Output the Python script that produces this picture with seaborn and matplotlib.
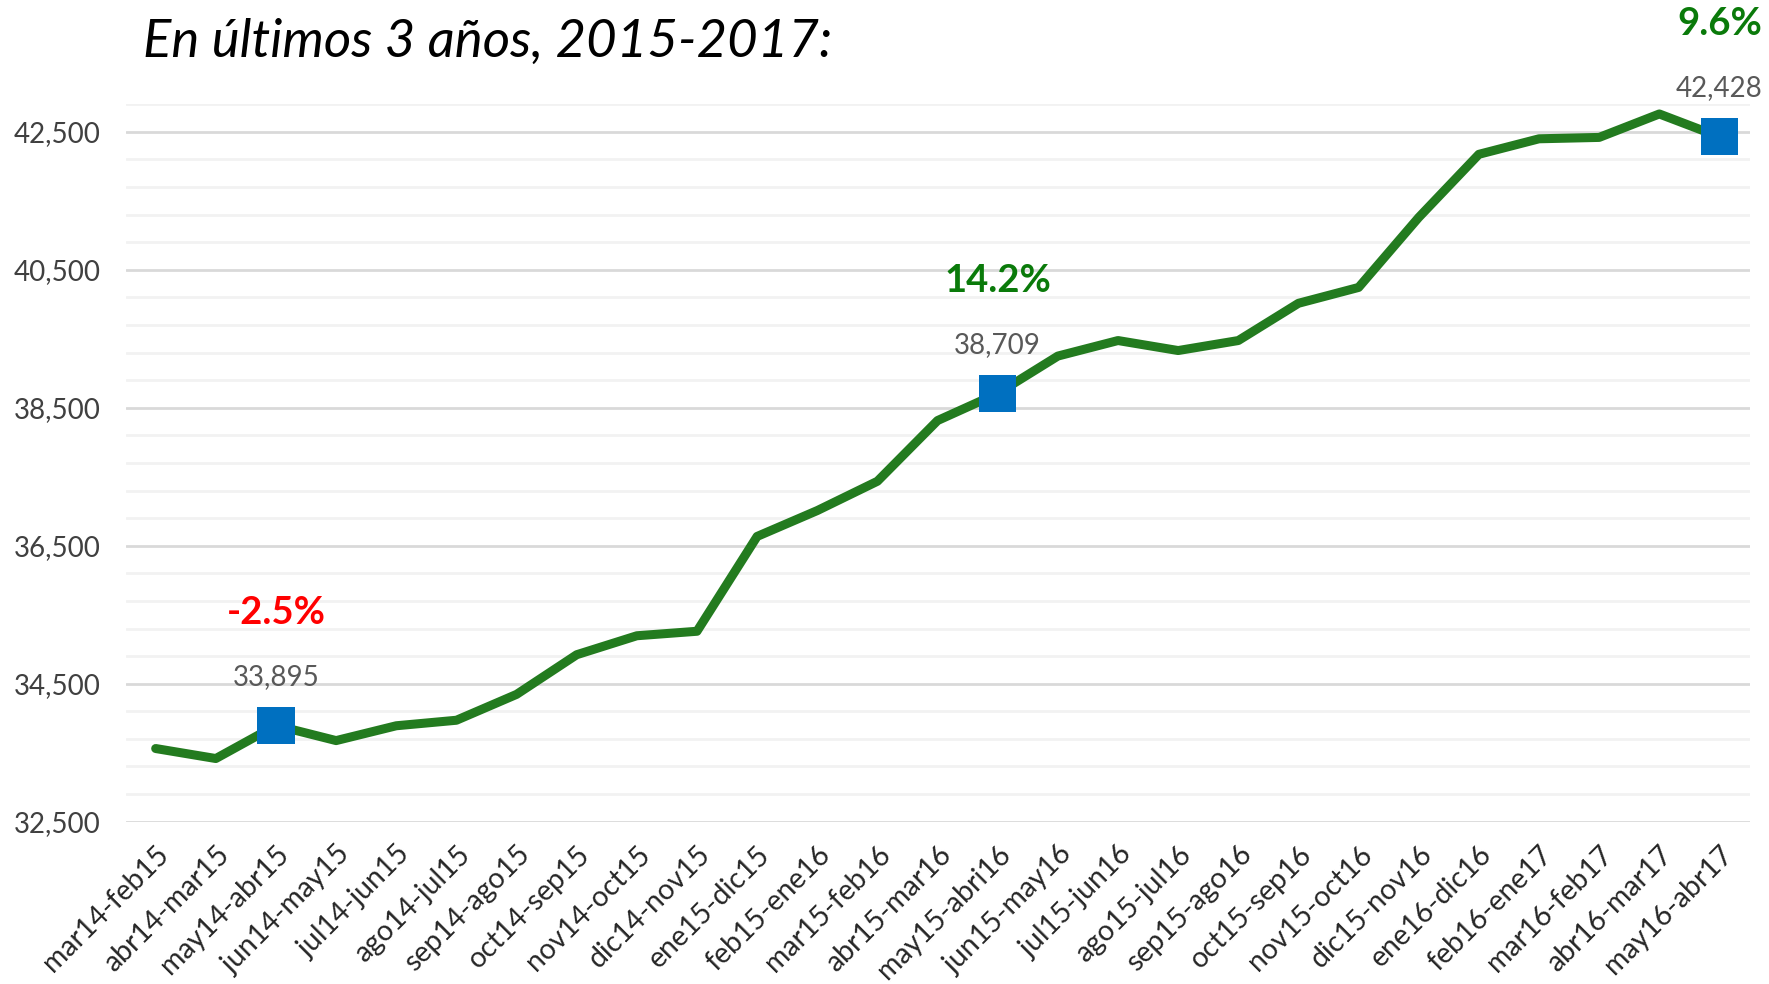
import numpy as np
import pandas as pd
import matplotlib
matplotlib.use("Agg")
import matplotlib.pyplot as plt
import seaborn as sns
from matplotlib.ticker import MultipleLocator, FuncFormatter

# ----- data -----
periodos = [
    "mar14-feb15", "abr14-mar15", "may14-abr15", "jun14-may15", "jul14-jun15",
    "ago14-jul15", "sep14-ago15", "oct14-sep15", "nov14-oct15", "dic14-nov15",
    "ene15-dic15", "feb15-ene16", "mar15-feb16", "abr15-mar16", "may15-abri16",
    "jun15-may16", "jul15-jun16", "ago15-jul16", "sep15-ago16", "oct15-sep16",
    "nov15-oct16", "dic15-nov16", "ene16-dic16", "feb16-ene17", "mar16-feb17",
    "abr16-mar17", "may16-abr17",
]
valores = [
    33560, 33415, 33895, 33675, 33890,
    33970, 34345, 34920, 35195, 35260,
    36635, 37010, 37435, 38315, 38709,
    39250, 39475, 39330, 39475, 40015,
    40245, 41260, 42175, 42400, 42420,
    42760, 42428,
]
destacados = ["may14-abr15", "may15-abri16", "may16-abr17"]
variacion = ["-2.5%", "14.2%", "9.6%"]
color_var = ["#FF0000", "#0A7A0A", "#0A7A0A"]

df = pd.DataFrame({"periodo": periodos, "valor": valores})
df["pos"] = np.arange(len(df))
hl = df[df["periodo"].isin(destacados)].reset_index(drop=True)

# ----- figure -----
sns.set_theme(style="white")
plt.rcParams["font.family"] = ["Lato", "DejaVu Sans"]

fig = plt.figure(figsize=(17.69, 9.84), dpi=100)
ax = fig.add_axes([0.071, 0.165, 0.918, 0.729])

sns.lineplot(data=df, x="pos", y="valor", color="#237B1F", linewidth=6.5,
             ax=ax, zorder=2)
sns.scatterplot(data=hl, x="pos", y="valor", marker="s", s=720,
                color="#0070C0", edgecolor="none", ax=ax, zorder=3)

# value label + change vs. one year earlier
for i, row in hl.iterrows():
    ax.annotate(f"{row['valor']:,}", (row["pos"], row["valor"]),
                xytext=(0, 35), textcoords="offset points",
                ha="center", va="center", fontsize=20, color="#595959")
    ax.annotate(variacion[i], (row["pos"], row["valor"]),
                xytext=(0, 81), textcoords="offset points",
                ha="center", va="center", fontsize=27.5, fontweight="bold",
                color=color_var[i])

# ----- axes styling -----
ax.set_xlim(-0.5, len(df) - 0.5)
ax.set_ylim(32500, 42900)
ax.yaxis.set_major_locator(MultipleLocator(2000, offset=500))
ax.yaxis.set_minor_locator(MultipleLocator(400, offset=100))
ax.yaxis.set_major_formatter(FuncFormatter(lambda v, p: f"{v:,.0f}"))
ax.grid(which="major", axis="y", color="#D9D9D9", linewidth=2)
ax.grid(which="minor", axis="y", color="#F2F2F2", linewidth=2)
ax.set_axisbelow(True)

ax.set_xticks(df["pos"])
ax.set_xticklabels(df["periodo"], rotation=45, ha="right",
                   rotation_mode="anchor", fontsize=20.5, color="#262626")
ax.tick_params(axis="y", which="both", length=0, labelsize=20,
               labelcolor="#404040", pad=18)
ax.tick_params(axis="x", length=0, pad=14)
ax.set_xlabel("")
ax.set_ylabel("")
sns.despine(ax=ax, left=True, bottom=True)

fig.text(0.081, 0.957, "En últimos 3 años, 2015-2017:", fontsize=38,
         fontstyle="italic", ha="left", va="center", color="#000000")

fig.savefig("out.png", dpi=100)
